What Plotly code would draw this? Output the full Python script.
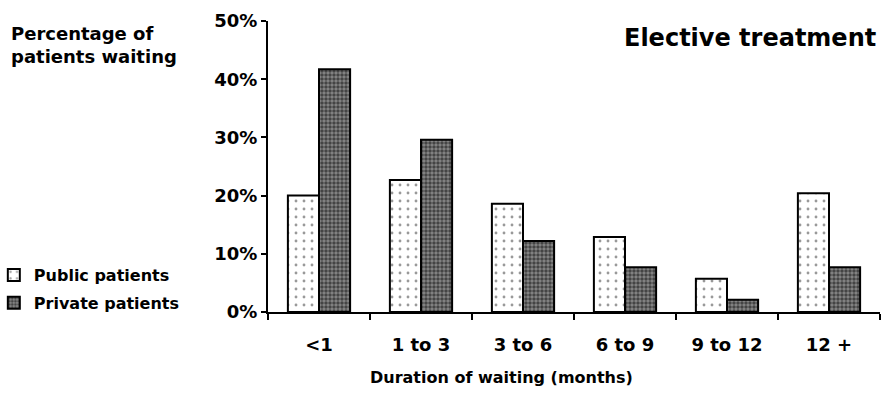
import plotly.graph_objects as go

categories = ["<1", "1 to 3", "3 to 6", "6 to 9", "9 to 12", "12 +"]
public_vals = [20.0, 22.7, 18.6, 12.9, 5.7, 20.4]
private_vals = [41.7, 29.6, 12.2, 7.7, 2.1, 7.7]
y_ticks = [0, 10, 20, 30, 40, 50]
y_tick_text = [f"{v}%" for v in y_ticks]

FONT = "DejaVu Sans, sans-serif"

fig = go.Figure()
fig.add_trace(go.Bar(
    x=categories, y=public_vals, name="Public patients", legendgroup="a",
    marker=dict(color="white", line=dict(color="black", width=2),
                pattern=dict(shape=".", fgcolor="#333", bgcolor="white", size=8, solidity=0.1)),
))
fig.add_trace(go.Bar(
    x=categories, y=private_vals, name="Private patients", legendgroup="b",
    marker=dict(color="#444", line=dict(color="black", width=2),
                pattern=dict(shape=".", fgcolor="black", bgcolor="#888", size=4, solidity=0.6)),
))

fig.update_layout(
    width=882, height=395,
    margin=dict(l=268, r=2, t=21, b=83, autoexpand=False),
    paper_bgcolor="white", plot_bgcolor="white",
    barmode="group", bargap=0.39, bargroupgap=0,
    font=dict(family=FONT, size=16, color="black", weight="bold"),
    showlegend=True,
    legend=dict(x=-0.448, xanchor="left", y=0.185, yanchor="top",
                font=dict(size=16, family=FONT, weight="bold"),
                tracegroupgap=4, itemwidth=30, bgcolor="rgba(0,0,0,0)"),
    xaxis=dict(showline=True, linecolor="black", linewidth=2, ticks="outside",
               tickson="boundaries", ticklen=6, tickwidth=2, tickcolor="black",
               ticklabelstandoff=15, tickfont=dict(size=18, weight="bold"),
               showgrid=False, zeroline=False),
    yaxis=dict(range=[0, 50], tickvals=y_ticks, ticktext=y_tick_text, showline=True,
               linecolor="black", linewidth=2, ticks="outside", ticklen=5, tickwidth=2,
               tickcolor="black", tickfont=dict(size=18, weight="bold"),
               showgrid=False, zeroline=False),
    annotations=[
        dict(text="Percentage of<br>patients waiting", xref="paper", yref="paper",
             x=-0.424, y=1.0, xanchor="left", yanchor="top", align="left", showarrow=False,
             font=dict(size=18, family=FONT, weight="bold")),
        dict(text="Elective treatment", xref="paper", yref="paper", x=0.997, y=0.995,
             xanchor="right", yanchor="top", showarrow=False,
             font=dict(size=24, family=FONT, weight="bold")),
        dict(text="Duration of waiting (months)", xref="paper", yref="paper",
             x=0.381, y=-0.186, xanchor="center", yanchor="top", showarrow=False,
             font=dict(size=16, family=FONT, weight="bold")),
    ],
)

fig.write_html("out.html")
